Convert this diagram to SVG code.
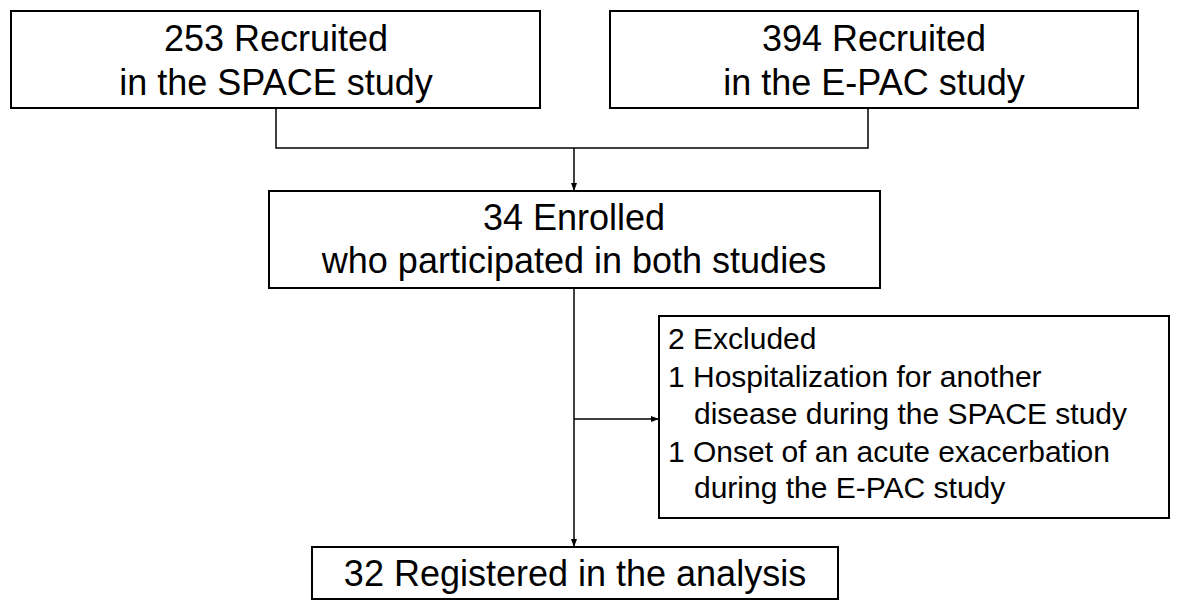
<svg xmlns="http://www.w3.org/2000/svg" width="1180" height="611" viewBox="0 0 1180 611">
<style>
rect{fill:#fff;stroke:#000;stroke-width:2}
text{font-family:"Liberation Sans",Arial,sans-serif;fill:#000}
.c{font-size:36px;text-anchor:middle}
.l{font-size:30px}
.ln{fill:none;stroke:#000;stroke-width:1.5}
</style>
<defs><marker id="a" markerWidth="8" markerHeight="8" refX="7" refY="4" orient="auto" markerUnits="userSpaceOnUse"><path d="M0,1 L8,4 L0,7 Z" fill="#000"/></marker></defs>
<rect width="1180" height="611" style="stroke:none"/>
<g id="connectors">
<path class="ln" d="M276,108 V148 H868 V108"/>
<path class="ln" d="M574,148 V190" marker-end="url(#a)"/>
<path class="ln" d="M574,288 V546" marker-end="url(#a)"/>
<path class="ln" d="M574,419 H658" marker-end="url(#a)"/>
</g>
<g id="n1"><rect x="11" y="11" width="529" height="97"/><text class="c" x="276" y="51">253 Recruited</text><text class="c" x="276" y="95">in the SPACE study</text></g>
<g id="n2"><rect x="610" y="11" width="528" height="97"/><text class="c" x="874" y="51">394 Recruited</text><text class="c" x="874" y="95">in the E-PAC study</text></g>
<g id="n3"><rect x="269" y="191" width="611" height="97"/><text class="c" x="574" y="230">34 Enrolled</text><text class="c" x="574" y="273">who participated in both studies</text></g>
<g id="n5"><rect x="659" y="316" width="510" height="202"/>
<text class="l" x="668" y="349">2 Excluded</text>
<text class="l" x="668" y="387">1 Hospitalization for another</text>
<text class="l" x="694" y="424">disease during the SPACE study</text>
<text class="l" x="668" y="462">1 Onset of an acute exacerbation</text>
<text class="l" x="694" y="498">during the E-PAC study</text></g>
<g id="n4"><rect x="312" y="547" width="526" height="52"/><text class="c" x="575" y="586">32 Registered in the analysis</text></g>
</svg>
